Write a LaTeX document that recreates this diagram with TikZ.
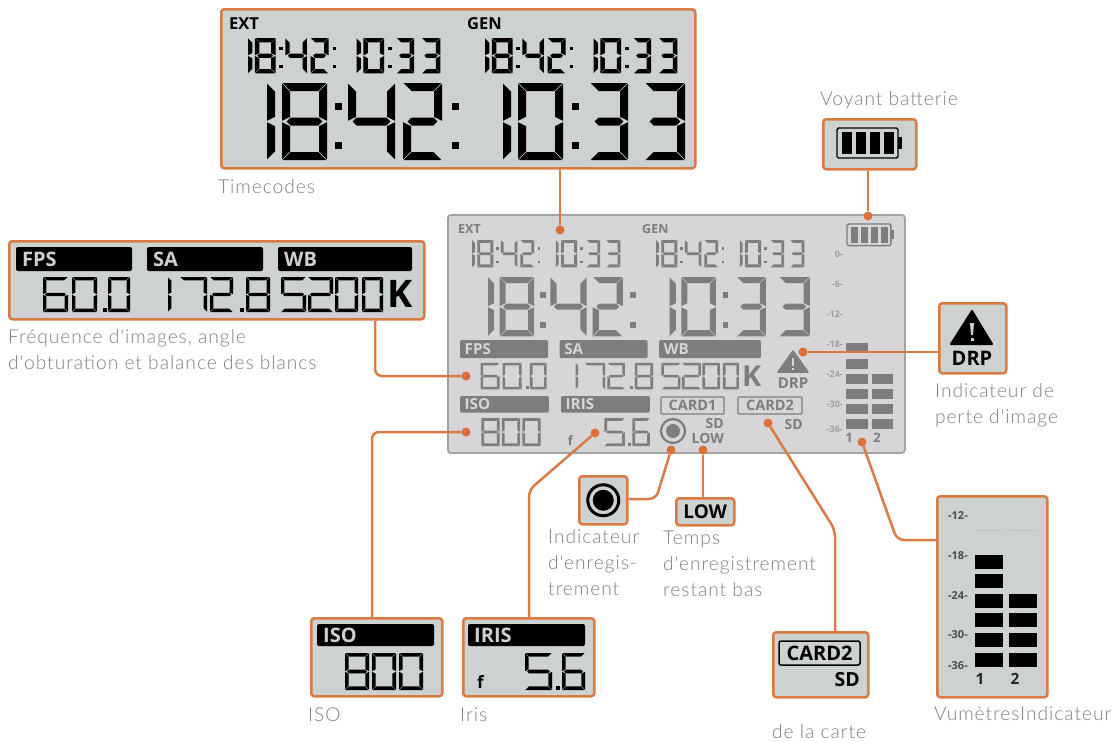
\documentclass[tikz,border=0pt]{standalone}
\usepackage{fontspec}
\setmainfont{Lato}
\newfontfamily\lcdfont{Open Sans}
\newfontfamily\capfont{Lato}[UprightFont=* Light, LetterSpace=5]
\usetikzlibrary{positioning}

\definecolor{lcdorange}{HTML}{D97B42}
\definecolor{lcdgrey}{HTML}{CDD1CF}
\definecolor{maingrey}{HTML}{D6D6D8}
\definecolor{mainedge}{HTML}{A3A3A5}
\definecolor{mainink}{HTML}{7D7D7F}
\definecolor{captiongrey}{HTML}{808080}
\colorlet{lcdink}{black}

\tikzset{
  panel/.style 2 args={draw=lcdorange, line width=2.5pt, fill=lcdgrey, rounded corners=3pt, inner sep=0pt, anchor=north west, minimum width=#1, minimum height=#2},
  caption/.style={text=captiongrey, inner sep=0pt, align=left, font=\capfont\fontsize{19.2}{26}\selectfont},
  conn/.style={draw=lcdorange, line width=2.5pt, rounded corners=7pt},
  dot/.style={circle, fill=lcdorange!90!red, inner sep=0pt, minimum size=9pt},
  lcdtext/.style={text=lcdink, inner sep=0pt, font=\lcdfont\bfseries\fontsize{#1}{#1}\selectfont},
  bartext/.style={text=lcdgrey, inner sep=0pt, anchor=west, transform shape, font=\lcdfont\bfseries\fontsize{20}{20}\selectfont},
}

% segments of one digit
\newcommand{\sega}{\fill[lcdink] (\segg,0)--(\segw-\segg,0)--(\segw-\segt-\segg,\segt)--(\segt+\segg,\segt)--cycle;}
\newcommand{\segb}{\fill[lcdink] (\segw,\segg)--(\segw,\segm-\segg)--(\segw-\segt,\segm-\segt/2-\segg)--(\segw-\segt,\segt+\segg)--cycle;}
\newcommand{\segc}{\fill[lcdink] (\segw,\segm+\segg)--(\segw,\segh-\segg)--(\segw-\segt,\segh-\segt-\segg)--(\segw-\segt,\segm+\segt/2+\segg)--cycle;}
\newcommand{\segd}{\fill[lcdink] (\segg,\segh)--(\segw-\segg,\segh)--(\segw-\segt-\segg,\segh-\segt)--(\segt+\segg,\segh-\segt)--cycle;}
\newcommand{\sege}{\fill[lcdink] (0,\segm+\segg)--(0,\segh-\segg)--(\segt,\segh-\segt-\segg)--(\segt,\segm+\segt/2+\segg)--cycle;}
\newcommand{\segf}{\fill[lcdink] (0,\segg)--(0,\segm-\segg)--(\segt,\segm-\segt/2-\segg)--(\segt,\segt+\segg)--cycle;}
\newcommand{\segx}{\fill[lcdink] (\segt/2+\segg,\segm)--(\segt+\segg,\segm-\segt/2)--(\segw-\segt-\segg,\segm-\segt/2)--(\segw-\segt/2-\segg,\segm)--(\segw-\segt-\segg,\segm+\segt/2)--(\segt+\segg,\segm+\segt/2)--cycle;}
\expandafter\def\csname lcdd0\endcsname{a,b,c,d,e,f}
\expandafter\def\csname lcdd1\endcsname{e,f}
\expandafter\def\csname lcdd2\endcsname{a,b,x,e,d}
\expandafter\def\csname lcdd3\endcsname{a,b,x,c,d}
\expandafter\def\csname lcdd4\endcsname{f,x,b,c}
\expandafter\def\csname lcdd5\endcsname{a,f,x,c,d}
\expandafter\def\csname lcdd6\endcsname{a,f,x,c,d,e}
\expandafter\def\csname lcdd7\endcsname{a,b,c}
\expandafter\def\csname lcdd8\endcsname{a,b,c,d,e,f,x}

% height, stroke, list of x/width/digit
\newcommand{\lcdrow}[3]{%
  \pgfmathsetmacro{\segh}{#1}\pgfmathsetmacro{\segm}{#1/2}\def\segt{#2}\pgfmathsetmacro{\segg}{#2*.08}%
  \foreach \dgx/\segw/\dgn in {#3}{%
    \begin{scope}[shift={(\dgx,0)}]
      \edef\seglist{\csname lcdd\dgn\endcsname}%
      \foreach \segn in \seglist {\csname seg\segn\endcsname}
    \end{scope}}}

% x, y, scale, ink, stroke
\newcommand{\timerow}[5]{%
  \begin{scope}[shift={(#1,#2)},scale=#3]
    \colorlet{lcdink}{#4}
    \lcdrow{77}{#5}{0/10/1,15/45/8,81/47/4,136/39/2,236/10/1,251/45/0,323/38/3,378/40/3}
    \foreach \colx in {68,185,305}{
      \fill[lcdink] (\colx,20) rectangle (\colx+7,27);
      \fill[lcdink] (\colx,59) rectangle (\colx+7,66);}
  \end{scope}}

% x, y, scale, ink, bar text colour, prefix
\newcommand{\fpsrow}[6]{%
  \begin{scope}[shift={(#1,#2)},scale=#3]
    \colorlet{lcdink}{#4}
    \foreach \barx/\barw/\barn in {0/116/FPS,131/116/SA,262/134/WB}{
      \fill[lcdink, rounded corners=2pt] (\barx,0) rectangle (\barx+\barw,24);
      \node[bartext, text=#5] (#6_\barn) at (\barx+6,12) {\barn};}
    \begin{scope}[shift={(0,30)}]
      \lcdrow{35}{3.4}{27/25/6,56/25/0,92/22/0,152/4/1,164/27/7,194/23/2,230/24/8,265/25/5,292/25/2,319/23/0,346/21/0}
      \foreach \dotx in {87,224}{\fill[lcdink] (\dotx,31) rectangle (\dotx+4,35);}
      \node[bartext, text=lcdink, font=\lcdfont\bfseries\fontsize{38}{38}\selectfont] (#6_k) at (371,17) {K};
    \end{scope}
  \end{scope}}

\newcommand{\isorow}[6]{%
  \begin{scope}[shift={(#1,#2)},scale=#3]
    \colorlet{lcdink}{#4}
    \fill[lcdink, rounded corners=2pt] (0,0) rectangle (117,22);
    \node[bartext, text=#5] (#6_bar) at (6,11) {ISO};
    \begin{scope}[shift={(0,29)}]
      \lcdrow{37}{3.6}{28/24/8,55/24/0,82/24/0}
    \end{scope}
  \end{scope}}

\newcommand{\irisrow}[6]{%
  \begin{scope}[shift={(#1,#2)},scale=#3]
    \colorlet{lcdink}{#4}
    \fill[lcdink, rounded corners=2pt] (0,0) rectangle (117,22);
    \node[bartext, text=#5] (#6_bar) at (6,11) {IRIS};
    \node[bartext, text=lcdink, font=\lcdfont\bfseries\fontsize{17}{17}\selectfont] (#6_f) at (9,58) {f};
    \begin{scope}[shift={(0,29)}]
      \lcdrow{37}{3.6}{57/27/5,94/23/6}
      \fill[lcdink] (88,33) rectangle (92,37);
    \end{scope}
  \end{scope}}

% x, y, scale, ink
\newcommand{\battery}[4]{%
  \begin{scope}[shift={(#1,#2)},scale=#3]
    \draw[#4, line width=1.4pt, rounded corners=1.5pt] (0,0) rectangle (61,30);
    \fill[#4] (61,9) rectangle (65,21);
    \foreach \batx in {5,19,33,47}{\fill[#4] (\batx,4) rectangle (\batx+10,26);}
  \end{scope}}

\begin{document}
\begin{tikzpicture}[x=1pt,y=-1pt]
  \useasboundingbox (0,0) rectangle (1112,742);

  % Define nodes
  % main screen
  \node[panel={457pt}{238pt}, draw=mainedge, line width=1.8pt, fill=maingrey](p_main) at (447,214){};
  \node[lcdtext=12.5, text=mainink, anchor=west](m_ext) at (458,229){EXT};
  \node[lcdtext=12.5, text=mainink, anchor=west](m_gen) at (642,229){GEN};
  \timerow{472}{240}{.355}{mainink}{8}
  \timerow{656}{240}{.355}{mainink}{8}
  \timerow{488}{277}{.77}{mainink}{8}
  \fpsrow{460}{340}{.76}{mainink}{maingrey}{m}
  \isorow{460}{396}{.76}{mainink}{maingrey}{m_iso}
  \irisrow{561}{396}{.76}{mainink}{maingrey}{m_iris}
  \node[draw=mainink, line width=1.2pt, rounded corners=1pt, minimum width=63pt, minimum height=17pt, inner sep=0pt, lcdtext=14.5, text=mainink](m_card1) at (692.5,405.5){CARD1};
  \node[draw=mainink, line width=1.2pt, rounded corners=1pt, minimum width=64pt, minimum height=17pt, inner sep=0pt, lcdtext=14.5, text=mainink](m_card2) at (770,405.5){CARD2};
  \node[lcdtext=14, text=mainink, anchor=east](m_sd1) at (724,423){SD};
  \node[lcdtext=14, text=mainink, anchor=east](m_sd2) at (803,424){SD};
  \node[lcdtext=14, text=mainink, anchor=east](m_low) at (724,438){LOW};
  \node[circle, draw=mainink, line width=2.2pt, fill=maingrey, minimum size=24pt, inner sep=0pt](m_rec) at (673,431){};
  \fill[mainink] (m_rec) circle (7);
  \fill[mainink, line join=round, draw=mainink, line width=1.5pt] (793,351) -- (808,372) -- (778,372) -- cycle;
  \fill[maingrey] (792,358) rectangle (794,366);
  \fill[maingrey] (792,368) rectangle (794,370);
  \node[lcdtext=15, text=mainink](m_drp) at (793,383){DRP};
  \battery{847}{224}{.72}{mainink}
  \draw[mainink!30, line width=.6pt] (868,246) -- (868,343);
  \foreach \mty/\mtl in {254/0,284/-6,314/-12,344/-18,374/-24,404/-30,429/-36}{
    \node[lcdtext=9, text=mainink!75, anchor=east](m_s\mtl) at (843,\mty){\mtl-};}
  \foreach \mty in {343,359,374,389,404,419}{\fill[mainink] (846,\mty) rectangle (868,\mty+10);}
  \foreach \mty in {374,389,404,419}{\fill[mainink] (872,\mty) rectangle (893,\mty+10);}
  \node[lcdtext=13, text=mainink](m_m1) at (849,438){1};
  \node[lcdtext=13, text=mainink](m_m2) at (877,438){2};

  % timecodes
  \node[panel={474pt}{159pt}](p_time) at (220,8){};
  \node[lcdtext=16.5, anchor=west](t_ext) at (229,24){EXT};
  \node[lcdtext=16.5, anchor=west](t_gen) at (467,24){GEN};
  \timerow{248}{38}{.46}{black}{9.5}
  \timerow{485}{38}{.46}{black}{9.5}
  \timerow{267}{83}{1}{black}{8}
  \node[caption, below right=10pt and -2pt of p_time.south west](c_time){Timecodes};

  % battery
  \node[panel={93pt}{50pt}](p_batt) at (822,118){};
  \battery{837}{128}{1}{black}
  \node[caption, above right=9pt and -2pt of p_batt.north west](c_batt){Voyant batterie};

  % frame rate, shutter, white balance
  \node[panel={415pt}{78pt}](p_fps) at (8,240){};
  \fpsrow{16}{247}{1}{black}{lcdgrey}{f}
  \node[caption, below right=9pt and 0pt of p_fps.south west](c_fps){Fréquence d'images, angle\\d'obturation et balance des blancs};

  % dropped frames
  \node[panel={67pt}{70pt}](p_drp) at (938,302){};
  \fill[black, line join=round, draw=black, line width=2pt] (972,311) -- (992,344) -- (951,344) -- cycle;
  \fill[lcdgrey] (970,323) -- (974,323) -- (973,335) -- (971,335) -- cycle;
  \fill[lcdgrey] (970.5,338) rectangle (973.5,341);
  \node[lcdtext=20](d_drp) at (972,358){DRP};
  \node[caption, below right=9pt and -3pt of p_drp.south west](c_drp){Indicateur de\\perte d'image};

  % iso and iris
  \node[panel={131pt}{78pt}](p_iso) at (310,617){};
  \isorow{317}{624}{1}{black}{lcdgrey}{i_iso}
  \node[caption, below right=10pt and -2pt of p_iso.south west](c_iso){ISO};
  \node[panel={131pt}{78pt}](p_iris) at (462,617){};
  \irisrow{468}{624}{1}{black}{lcdgrey}{i_iris}
  \node[caption, below right=10pt and -2pt of p_iris.south west](c_iris){Iris};

  % record and low
  \node[panel={48pt}{48pt}](p_rec) at (578,475){};
  \node[circle, draw=black, line width=3pt, fill=lcdgrey, minimum size=31pt, inner sep=0pt](r_ring) at (p_rec){};
  \fill[black] (r_ring) circle (10.5);
  \node[caption, below right=4pt and -30pt of p_rec.south west](c_rec){Indicateur\\d'enregis-\\trement};
  \node[panel={58pt}{27pt}, lcdtext=19](p_low) at (675,497){LOW};
  \node[caption, below right=4pt and -12pt of p_low.south west](c_low){Temps\\d'enregistrement\\restant bas};

  % card
  \node[panel={95pt}{65pt}](p_card) at (772,631){};
  \node[draw=black, line width=1.5pt, rounded corners=2pt, minimum width=81pt, minimum height=24pt, inner sep=0pt, lcdtext=20](k_card) at (819.5,653){CARD2};
  \node[lcdtext=19.5, anchor=east](k_sd) at (860,680){SD};
  \node[caption, below right=26pt and 0pt of p_card.south west](c_card){de la carte};

  % meters
  \node[panel={110pt}{201pt}](p_meter) at (936,495){};
  \foreach \mty/\mtl in {516/12,556/18,596/24,635/30,666/36}{
    \node[lcdtext=11, text=black!70, anchor=east](v_s\mtl) at (968,\mty){-\mtl-};}
  \foreach \mty in {555,574,594,613,633,653}{\fill[black] (975,\mty) rectangle (1003,\mty+14);}
  \foreach \mty in {594,613,633,653}{\fill[black] (1009,\mty) rectangle (1037,\mty+14);}
  \draw[black!25, line width=.6pt] (975,530) -- (1003,530) (1009,530) -- (1037,530);
  \node[lcdtext=15.5, text=black!85](v_m1) at (980,679){1};
  \node[lcdtext=15.5, text=black!85](v_m2) at (1015,679){2};
  \node[caption, below right=8pt and -2pt of p_meter.south west](c_meter){VumètresIndicateur};

  % dots
  \node[dot](d_time) at (560,230){};
  \node[dot](d_batt) at (868,216){};
  \node[dot](d_drp2) at (803,352){};
  \node[dot](d_fps) at (466,376){};
  \node[dot](d_iso) at (466,432){};
  \node[dot](d_iris) at (595,433){};
  \node[dot](d_rec) at (671,450){};
  \node[dot](d_low) at (703,450){};
  \node[dot](d_card) at (768,423){};
  \node[dot](d_meter) at (862,442){};
  \coordinate (b_fps) at (375,376);
  \coordinate (b_iso) at (372,432);
  \coordinate (b_iris) at (529,490);
  \coordinate (b_rec) at (656,499);
  \coordinate (b_card) at (835,530);
  \coordinate (b_meter) at (897,540);

  \draw[conn] (p_time.south -| d_time) -- (d_time);
  \draw[conn] (p_batt.south -| d_batt) -- (d_batt);
  \draw[conn] (p_drp.west |- d_drp2) -- (d_drp2);
  \draw[conn] (p_fps.south -| b_fps) -- (b_fps) -- (d_fps);
  \draw[conn] (p_iso.north -| b_iso) -- (b_iso) -- (d_iso);
  \draw[conn] (p_iris.north -| b_iris) -- (b_iris) -- (d_iris);
  \draw[conn] (p_rec.east |- b_rec) -- (b_rec) -- (d_rec);
  \draw[conn] (p_low.north -| d_low) -- (d_low);
  \draw[conn] (p_card.north -| b_card) -- (b_card) -- (d_card);
  \draw[conn] (p_meter.west |- b_meter) -- (b_meter) -- (d_meter);
\end{tikzpicture}
\end{document}
